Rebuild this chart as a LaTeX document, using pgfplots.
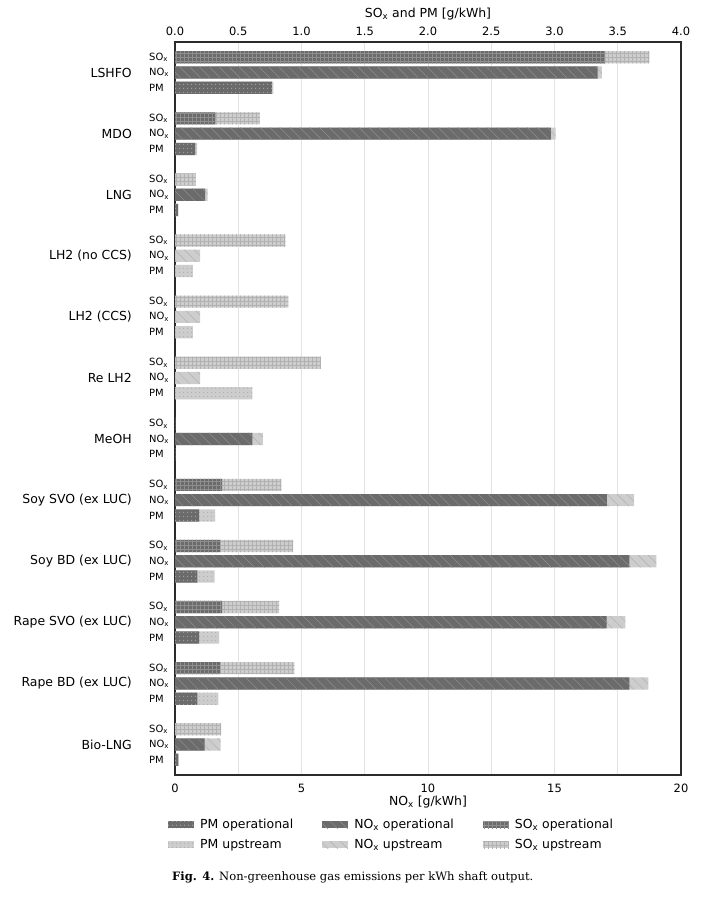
\documentclass[border=0pt]{standalone}
\usepackage{fontspec}
\setmainfont{DejaVu Sans}
\newfontfamily\capfont{DejaVu Serif}
\usepackage{pgfplots}
\pgfplotsset{compat=1.18}
\usepackage{pgfplotstable}
\usetikzlibrary{patterns.meta}
\definecolor{opc}{HTML}{6B6B6B}
\definecolor{opl}{HTML}{8E8E8E}
\definecolor{opd}{HTML}{A2A2A2}
\definecolor{upc}{HTML}{CDCDCD}
\definecolor{upl}{HTML}{B2B2B2}
\definecolor{gridc}{HTML}{E3E3E3}
\definecolor{framec}{HTML}{2B2B2B}
\tikzset{
  psox/.style={pattern={Hatch[distance=4bp, angle=0, line width=0.5bp]}},
  pnox/.style={pattern={Lines[distance=7bp, angle=-45, line width=0.5bp]}},
  ppm/.style={pattern={Dots[distance=3.6bp, radius=0.8bp]}},
  soxop/.style={fill=opc, postaction={psox, pattern color=opl, draw=none}},
  soxup/.style={fill=upc, postaction={psox, pattern color=upl, draw=none}},
  noxop/.style={fill=opc, postaction={pnox, pattern color=opl, draw=none}},
  noxup/.style={fill=upc, postaction={pnox, pattern color=upl, draw=none}},
  pmop/.style={fill=opc, postaction={ppm, pattern color=opd, draw=none}},
  pmup/.style={fill=upc, postaction={ppm, pattern color=upl, draw=none}},
}
\newcommand\legbox[3]{\pgfplotsset{legend image code/.code={%
  \path[draw=none, fill=#1] (0bp,-3.5bp) rectangle (26bp,3.5bp);
  \path[draw=none, #2, pattern color=#3] (0bp,-3.5bp) rectangle (26bp,3.5bp);}}}
\pgfplotstableread{
g soxop soxup noxop noxup pmop pmup
0  3.40  0.35  16.70 0.17 0.765 0.012
1  0.32  0.35  14.86 0.18 0.160 0.015
2  0.00  0.165 1.19  0.10 0.025 0.000
3  0.00  0.872 0.00  0.99 0.000 0.142
4  0.00  0.896 0.00  0.99 0.000 0.142
5  0.00  1.154 0.00  0.99 0.000 0.611
6  0.00  0.000 3.06  0.41 0.000 0.000
7  0.373 0.468 17.07 1.08 0.190 0.128
8  0.356 0.577 17.96 1.07 0.177 0.136
9  0.373 0.451 17.06 0.74 0.190 0.158
10 0.356 0.588 17.96 0.75 0.177 0.166
11 0.00  0.365 1.17  0.63 0.027 0.000
}\data
\begin{document}
\begin{tikzpicture}
\path[use as bounding box] (0,0) rectangle (722bp,-897bp);
\begin{axis}[
  at={(175bp,-42bp)}, anchor=north west,
  scale only axis, width=506bp, height=733bp,
  xmin=0, xmax=20, ymin=-0.5, ymax=11.5, y dir=reverse,
  xtick={0,5,10,15,20}, minor xtick={2.5,7.5,12.5,17.5},
  xmajorgrids, xminorgrids,
  major grid style={draw=gridc, line width=0.8bp},
  minor grid style={draw=gridc, line width=0.8bp},
  major tick length=0pt, minor tick length=0pt,
  axis line style={draw=framec, line width=1.2bp},
  /pgf/number format/assume math mode=true,
  xticklabel style={font=\fontsize{11.5}{13}\selectfont, anchor=center, yshift=-13bp},
  xlabel={NO\textsubscript{x} [g/kWh]},
  xlabel style={font=\fontsize{12.5}{14}\selectfont, at={(axis description cs:0.5,0)}, anchor=center, yshift=-27bp},
  ytick={-0.25,0,0.25, 0.75,1,1.25, 1.75,2,2.25, 2.75,3,3.25, 3.75,4,4.25, 4.75,5,5.25, 5.75,6,6.25, 6.75,7,7.25, 7.75,8,8.25, 8.75,9,9.25, 9.75,10,10.25, 10.75,11,11.25},
  yticklabels={SO\textsubscript{x},NO\textsubscript{x},PM,SO\textsubscript{x},NO\textsubscript{x},PM,SO\textsubscript{x},NO\textsubscript{x},PM,SO\textsubscript{x},NO\textsubscript{x},PM,SO\textsubscript{x},NO\textsubscript{x},PM,SO\textsubscript{x},NO\textsubscript{x},PM,SO\textsubscript{x},NO\textsubscript{x},PM,SO\textsubscript{x},NO\textsubscript{x},PM,SO\textsubscript{x},NO\textsubscript{x},PM,SO\textsubscript{x},NO\textsubscript{x},PM,SO\textsubscript{x},NO\textsubscript{x},PM,SO\textsubscript{x},NO\textsubscript{x},PM},
  yticklabel style={font=\fontsize{10}{12}\selectfont, anchor=west, inner sep=0pt, xshift=-26bp},
  extra y ticks={0,1,2,3,4,5,6,7,8,9,10,11},
  extra y tick labels={LSHFO,MDO,LNG,LH2 (no CCS),LH2 (CCS),Re LH2,MeOH,Soy SVO (ex LUC),Soy BD (ex LUC),Rape SVO (ex LUC),Rape BD (ex LUC),Bio-LNG},
  extra y tick style={yticklabel style={font=\fontsize{12.5}{14}\selectfont, anchor=east, inner sep=0pt, xshift=-17bp}},
  legend columns=3,
  legend cell align=left,
  legend style={at={(axis description cs:0,0)}, anchor=north west, xshift=-10bp, yshift=-40bp,
    draw=none, fill=none, font=\fontsize{12.5}{14}\selectfont,
    /tikz/every odd column/.append style={column sep=4bp},
    /tikz/every even column/.append style={column sep=27bp},
    row sep=5bp},
]
\addplot[xbar, bar width=0.2, bar shift=0pt, draw=none, noxup, forget plot] table[x expr=\thisrow{noxop}+\thisrow{noxup}, y=g] {\data};
\addplot[xbar, bar width=0.2, bar shift=0pt, draw=none, noxop, forget plot] table[x=noxop, y=g] {\data};
\addlegendimage{/utils/exec={\legbox{opc}{ppm}{opd}}}
\addlegendentry{PM operational}
\addlegendimage{/utils/exec={\legbox{opc}{pnox}{opl}}}
\addlegendentry{NO\textsubscript{x} operational}
\addlegendimage{/utils/exec={\legbox{opc}{psox}{opl}}}
\addlegendentry{SO\textsubscript{x} operational}
\addlegendimage{/utils/exec={\legbox{upc}{ppm}{upl}}}
\addlegendentry{PM upstream}
\addlegendimage{/utils/exec={\legbox{upc}{pnox}{upl}}}
\addlegendentry{NO\textsubscript{x} upstream}
\addlegendimage{/utils/exec={\legbox{upc}{psox}{upl}}}
\addlegendentry{SO\textsubscript{x} upstream}
\end{axis}
\begin{axis}[
  at={(175bp,-42bp)}, anchor=north west,
  scale only axis, width=506bp, height=733bp,
  xmin=0, xmax=4, ymin=-0.5, ymax=11.5, y dir=reverse,
  axis x line*=top, hide y axis,
  x axis line style={draw=none},
  xtick={0,0.5,1,1.5,2,2.5,3,3.5,4},
  major tick length=0pt,
  /pgf/number format/assume math mode=true,
  xticklabel style={/pgf/number format/.cd, fixed, fixed zerofill, precision=1, /tikz/.cd, font=\fontsize{11.5}{13}\selectfont, anchor=center, yshift=11bp},
  xlabel={SO\textsubscript{x} and PM [g/kWh]},
  xlabel style={font=\fontsize{12.5}{14}\selectfont, at={(axis description cs:0.5,1)}, anchor=center, yshift=28bp},
]
\addplot[xbar, bar width=0.2, bar shift=0pt, draw=none, soxup] table[x expr=\thisrow{soxop}+\thisrow{soxup}, y expr=\thisrow{g}-0.25] {\data};
\addplot[xbar, bar width=0.2, bar shift=0pt, draw=none, soxop] table[x=soxop, y expr=\thisrow{g}-0.25] {\data};
\addplot[xbar, bar width=0.2, bar shift=0pt, draw=none, pmup] table[x expr=\thisrow{pmop}+\thisrow{pmup}, y expr=\thisrow{g}+0.25] {\data};
\addplot[xbar, bar width=0.2, bar shift=0pt, draw=none, pmop] table[x=pmop, y expr=\thisrow{g}+0.25] {\data};
\end{axis}
\node[anchor=west, font=\capfont\fontsize{11.6}{14}\selectfont, inner sep=0pt] at (172bp,-877bp) {\textbf{Fig. 4.} Non-greenhouse gas emissions per kWh shaft output.};
\end{tikzpicture}
\end{document}
